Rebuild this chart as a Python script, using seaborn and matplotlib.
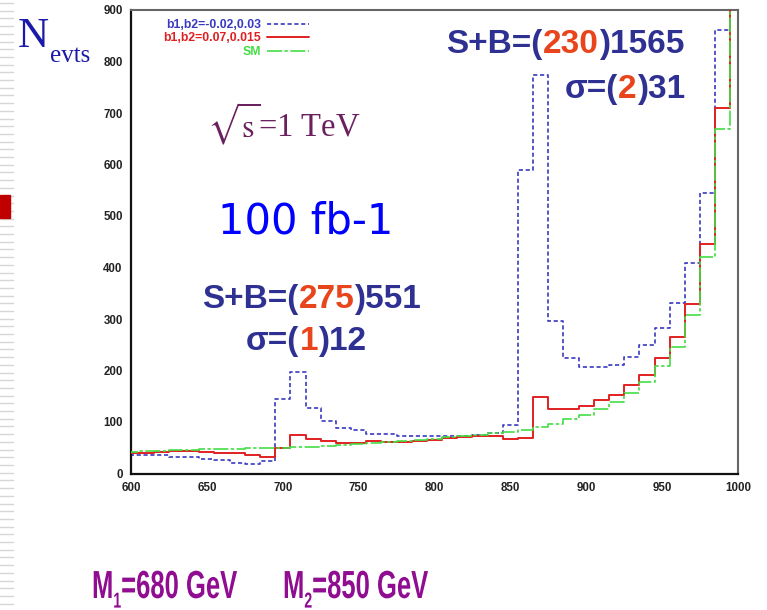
import numpy as np
import pandas as pd
import matplotlib
matplotlib.use("Agg")
import matplotlib.pyplot as plt
import seaborn as sns
from matplotlib.lines import Line2D
from matplotlib.patches import Rectangle
from matplotlib.patheffects import AbstractPathEffect
from matplotlib.transforms import Affine2D

# ---------------- data ----------------
mass_centers = list(range(600, 1001, 10))          # bin centres, GeV
bin_edges = list(range(595, 1006, 10))             # 10 GeV bins
blue_counts = [35, 35, 35, 33, 32, 29, 27, 21, 18, 25,
               144, 197, 127, 101, 88, 84, 77, 76, 73, 73,
               73, 73, 73, 75, 78, 94, 590, 773, 297, 224,
               206, 206, 211, 226, 250, 282, 332, 409, 545, 862, 1200]
red_counts = [40, 40, 41, 44, 44, 41, 40, 39, 36, 33,
              50, 74, 67, 64, 60, 60, 63, 62, 62, 64,
              65, 68, 70, 72, 72, 67, 69, 149, 125, 125,
              131, 142, 153, 171, 191, 224, 266, 329, 446, 710, 1100]
sm_counts = [42, 43, 44, 45, 46, 47, 48, 48, 49, 49,
             50, 51, 52, 54, 56, 58, 59, 61, 63, 65,
             67, 70, 73, 75, 78, 81, 85, 91, 96, 105,
             114, 125, 138, 156, 178, 208, 245, 308, 421, 668, 1000]
series_labels = ["b1,b2=-0.02,0.03", "b1,b2=0.07,0.015", "SM"]
x_ticks = [600, 650, 700, 750, 800, 850, 900, 950, 1000]
y_ticks = [0, 100, 200, 300, 400, 500, 600, 700, 800, 900]

BLUE = "#3a3ac0"
RED = "#e02020"
GREEN = "#44dd44"
NAVY = "#2e3192"
ORANGE = "#e8451c"
PURPLE = "#900c90"

sns.set_style("white")
plt.rcParams["font.family"] = ["Liberation Sans", "DejaVu Sans"]
plt.rcParams["mathtext.fontset"] = "stix"

W, H = 767, 610
fig = plt.figure(figsize=(W / 100, H / 100), dpi=100)
fig.patch.set_facecolor("white")

ax_left, ax_right, ax_top, ax_bot = 131, 738, 10, 473.5
ax = fig.add_axes([ax_left / W, 1 - ax_bot / H, (ax_right - ax_left) / W, (ax_bot - ax_top) / H])

df = pd.DataFrame({"mass": mass_centers, "blue": blue_counts, "red": red_counts, "sm": sm_counts})

sns.histplot(data=df, x="mass", weights="blue", bins=bin_edges, element="step", fill=False,
             color=BLUE, linestyle=(0, (2.5, 1.6)), linewidth=1.2, ax=ax, zorder=2)
sns.histplot(data=df, x="mass", weights="red", bins=bin_edges, element="step", fill=False,
             color=RED, linestyle="-", linewidth=1.4, ax=ax, zorder=3)
sns.histplot(data=df, x="mass", weights="sm", bins=bin_edges, element="step", fill=False,
             color=GREEN, linestyle=(0, (9, 1.5, 2, 1.5)), linewidth=1.2, ax=ax, zorder=4)

ax.set_xlim(600, 1000)
ax.set_ylim(0, 900)
ax.set_xlabel("")
ax.set_ylabel("")
ax.set_xticks(x_ticks)
ax.set_yticks(y_ticks)
ax.set_xticks(np.arange(600, 1001, 10), minor=True)
ax.set_yticks(np.arange(0, 901, 20), minor=True)
ax.tick_params(axis="both", which="major", direction="in", length=4.5, width=1.0,
               labelsize=8.3, colors="#222222", pad=6)
ax.tick_params(axis="both", which="minor", direction="in", length=2.2, width=0.8, colors="#222222")
ax.tick_params(top=False, right=False)
for lab in ax.get_xticklabels() + ax.get_yticklabels():
    lab.set_fontweight("bold")
for s in ["left", "bottom"]:
    ax.spines[s].set_color("#111111")
    ax.spines[s].set_linewidth(1.6)
for s in ["top", "right"]:
    ax.spines[s].set_color("#666666")
    ax.spines[s].set_linewidth(1.5)

# legend
handles = [Line2D([], [], color=BLUE, linestyle=(0, (2.5, 1.6)), lw=1.2),
           Line2D([], [], color=RED, linestyle="-", lw=1.4),
           Line2D([], [], color=GREEN, linestyle=(0, (9, 1.5, 2, 1.5)), lw=1.2)]
ax.legend(handles, series_labels, loc="upper right",
          bbox_to_anchor=((309 - ax_left) / (ax_right - ax_left), 1 - (19 - ax_top) / (ax_bot - ax_top)),
          markerfirst=False, frameon=False, labelcolor=[BLUE, RED, GREEN],
          prop={"weight": "bold", "size": 8.8, "family": "Liberation Sans"},
          handlelength=3.4, handletextpad=0.5, labelspacing=0.12, borderpad=0, borderaxespad=0)

renderer = fig.canvas.get_renderer()


class Condense(AbstractPathEffect):
    """Squeeze glyphs horizontally (and stretch vertically) about an anchor, display pixels."""

    def __init__(self, sx, sy, x0, y0):
        super().__init__()
        self.sx, self.sy, self.x0, self.y0 = sx, sy, x0, y0

    def draw_path(self, renderer, gc, tpath, affine, rgbFace=None):
        aff = affine + Affine2D().translate(-self.x0, -self.y0).scale(self.sx, self.sy) \
            .translate(self.x0, self.y0)
        renderer.draw_path(gc, tpath, aff, rgbFace)


def draw_segments(x_px, y_px, segments, ha="left", sx=None, sy=1.0, **common):
    """segments: list of (text, color, size, dy_px). y_px = baseline from top."""
    texts, widths = [], []
    for s, c, size, dy in segments:
        t = fig.text(0, 0, s, color=c, fontsize=size, va="baseline", ha="left", **common)
        widths.append(t.get_window_extent(renderer).width)
        texts.append(t)
    total = sum(widths)
    cur = x_px - total if ha == "right" else x_px
    for t, w, (s, c, size, dy) in zip(texts, widths, segments):
        t.set_position((cur / W, 1 - (y_px + dy) / H))
        if sx is not None:
            t.set_path_effects([Condense(sx, sy, x_px, H - y_px)])
        cur += w


bold = dict(fontweight="bold", family=["Liberation Sans", "DejaVu Sans"])
draw_segments(684, 53, [("S+B=(", NAVY, 24, 0), ("230", ORANGE, 24, 0), (")1565", NAVY, 24, 0)],
              ha="right", **bold)
draw_segments(685, 98, [("σ=(", NAVY, 24, 0), ("2", ORANGE, 24, 0), (")31", NAVY, 24, 0)],
              ha="right", **bold)
draw_segments(421, 308, [("S+B=(", NAVY, 24, 0), ("275", ORANGE, 24, 0), (")551", NAVY, 24, 0)],
              ha="right", **bold)
draw_segments(246, 350, [("σ=(", NAVY, 24, 0), ("1", ORANGE, 24, 0), (")12", NAVY, 24, 0)],
              ha="left", **bold)

# N_evts label
serif = dict(family=["Liberation Serif", "DejaVu Serif"])
fig.text(18 / W, 1 - 47 / H, "N", color="#1a1aaa", fontsize=31, va="baseline", ha="left", **serif)
fig.text(50 / W, 1 - 62 / H, "evts", color="#1a1aaa", fontsize=18, va="baseline", ha="left", **serif)

# sqrt(s) = 1 TeV
fig.text(207 / W, 1 - 137 / H, r"$\sqrt{\mathrm{s}}$=1 TeV", color="#6b2060", fontsize=23.5,
         va="baseline", ha="left", **serif)

# 100 fb-1
fig.text(218 / W, 1 - 233 / H, "100 fb-1", color="#0000ff", fontsize=30,
         va="baseline", ha="left", family=["DejaVu Sans"])

# bottom mass labels: bold, condensed like the original
mbold = dict(fontweight="bold", family=["Liberation Sans", "DejaVu Sans"])
draw_segments(92, 598, [("M", PURPLE, 23.5, 0), ("1", PURPLE, 13, 8), ("=680 GeV", PURPLE, 23.5, 0)],
              sx=0.785, sy=1.2, **mbold)
draw_segments(283, 598, [("M", PURPLE, 23.5, 0), ("2", PURPLE, 13, 8), ("=850 GeV", PURPLE, 23.5, 0)],
              sx=0.785, sy=1.2, **mbold)

# slide decorations on the left edge
for yy in np.arange(3, H, 7.7):
    fig.add_artist(Line2D([0, 13 / W], [1 - yy / H, 1 - yy / H], transform=fig.transFigure,
                          color="#d6d6d6", lw=1.0))
fig.add_artist(Rectangle((0, 1 - 218 / H), 10 / W, 23 / H, transform=fig.transFigure,
                         color="#c00000", zorder=5))

fig.savefig("out.png", dpi=100, facecolor="white")
